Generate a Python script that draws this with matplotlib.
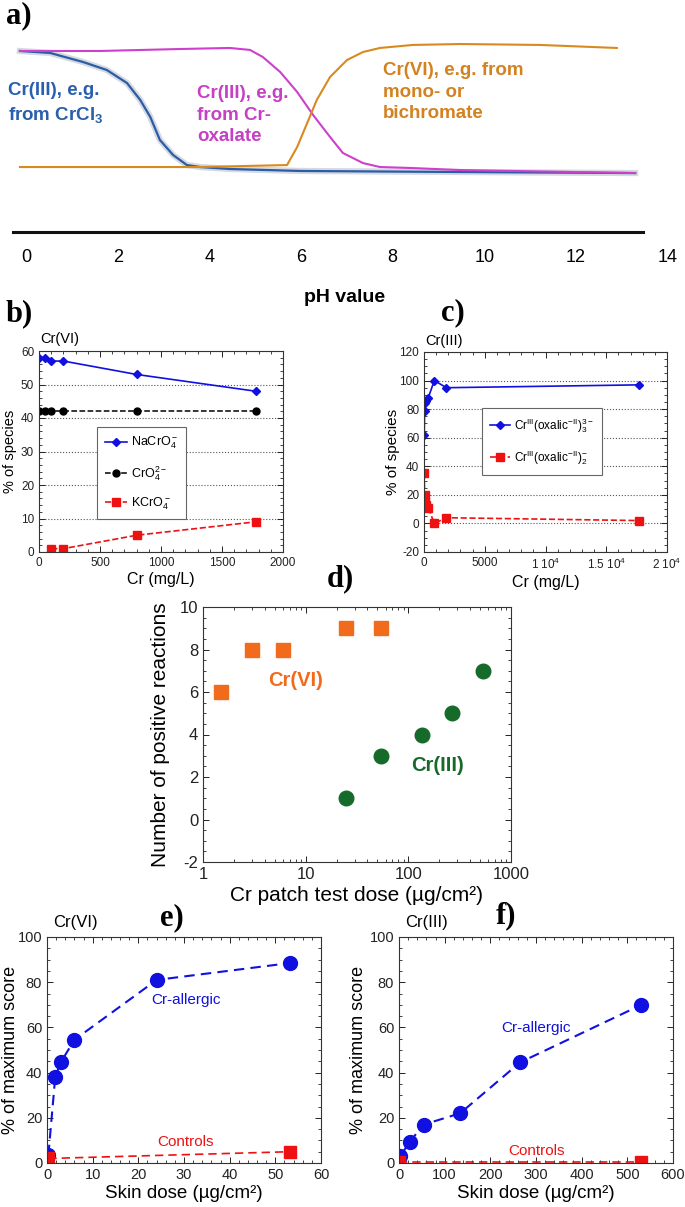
import matplotlib
matplotlib.use('Agg')
import matplotlib.pyplot as plt
from matplotlib.ticker import MultipleLocator

plt.rcParams['font.family'] = ['Liberation Sans', 'DejaVu Sans']
plt.rcParams['mathtext.default'] = 'regular'
plt.rcParams['axes.unicode_minus'] = False

W, H = 685, 1207

# a) schematic speciation vs pH (fraction of Cr)
ph_cl = [-0.15, 0.51, 1.23, 1.75, 2.19, 2.48, 2.70, 2.91, 3.20, 3.50, 3.79, 4.44, 5.97, 9.47, 13.3]
frac_cl = [1.0, 0.983, 0.905, 0.836, 0.724, 0.578, 0.431, 0.233, 0.103, 0.017, 0.0, -0.017, -0.034, -0.043, -0.052]
ph_ox = [-0.15, 1.6, 3.35, 4.44, 4.88, 5.16, 5.54, 5.91, 6.26, 6.63, 6.91, 7.35, 7.72, 8.44, 9.47, 13.3]
frac_ox = [1.0, 1.0, 1.017, 1.026, 1.009, 0.948, 0.819, 0.647, 0.448, 0.259, 0.121, 0.034, 0.0, -0.009, -0.026, -0.052]
ph_vi = [-0.15, 3.79, 5.69, 5.91, 6.13, 6.34, 6.63, 7.0, 7.35, 7.72, 8.44, 9.47, 11.22, 12.9]
frac_vi = [0.0, 0.0, 0.017, 0.172, 0.379, 0.578, 0.776, 0.922, 0.991, 1.026, 1.052, 1.06, 1.052, 1.026]
ph_ticks = [0, 2, 4, 6, 8, 10, 12, 14]

# b) Cr(VI) species
b_cr = [0, 50, 100, 200, 800, 1775]
b_nacro4 = [58, 58, 57, 57, 53, 48]
b_cro4 = [42, 42, 42, 42, 42, 42]
b_kcr = [100, 200, 800, 1775]
b_kcro4 = [1, 1, 5, 9]

# c) Cr(III) oxalate species
c_cr = [20, 50, 100, 200, 350, 850, 1850, 17700]
c_ox3 = [62, 79, 84, 86, 88, 100, 95, 97]
c_ox2 = [35, 20, 15, 13, 11, 0, 4, 2]
c_xticks = [0, 5000, 10000, 15000, 20000]
c_xlabels = ['0', '5000', '1 10$^4$', '1.5 10$^4$', '2 10$^4$']

# d) patch test dose vs positive reactions
d_vi_dose = [1.5, 3.0, 6.0, 24.5, 54]
d_vi_n = [6, 8, 8, 9, 9]
d_iii_dose = [24.5, 54, 135, 268, 537]
d_iii_n = [1, 3, 4, 5, 7]

# e) Cr(VI) skin dose vs score
e_dose = [0.3, 1.8, 3.0, 6.0, 24, 53.3]
e_allergic = [3.5, 38, 44.5, 54.5, 81, 88.5]
e_ctrl_dose = [0.3, 53.3]
e_ctrl = [2, 5]

# f) Cr(III) skin dose vs score
f_dose = [2.7, 24, 54, 134, 265, 531]
f_allergic = [3, 9.5, 17, 22, 44.5, 70]
f_ctrl_dose = [0.5, 531]
f_ctrl = [0.5, 0.5]

BLUE = '#1010e0'
RED = '#ee1111'


def px(x, y):
    return x / W, 1 - y / H


def box(l, t, r, b):
    return [l / W, 1 - b / H, (r - l) / W, (b - t) / H]


def style(ax, size):
    ax.tick_params(which='both', direction='in', top=True, right=True,
                   labelsize=size, colors='#222')
    ax.tick_params(which='major', length=4.5, width=0.7)
    ax.tick_params(which='minor', length=2.5, width=0.6)
    for s in ax.spines.values():
        s.set_linewidth(0.8)
        s.set_color('#333')


def panel_label(x, y, txt):
    fig.text(*px(x, y), txt, family='Liberation Serif', weight='bold',
             fontsize=22, ha='left', va='center')


fig = plt.figure(figsize=(W / 100, H / 100), dpi=100)

# ---- a)
ax = fig.add_axes(box(0, 20, W, 232))
ax.plot(ph_cl, frac_cl, color='#b9c0cc', lw=4.5, alpha=0.6)
ax.plot(ph_cl, frac_cl, color='#2b5ca8', lw=1.6)
ax.plot(ph_ox, frac_ox, color='#cc40cc', lw=1.5)
ax.plot(ph_vi, frac_vi, color='#d98a1e', lw=1.5)
ax.set_xlim(-26.8 / 45.74, (W - 26.8) / 45.74)
ax.set_ylim(-0.56, 1.267)
for s in ['top', 'left', 'right']:
    ax.spines[s].set_visible(False)
ax.spines['bottom'].set_bounds(-0.30, 13.47)
ax.spines['bottom'].set_linewidth(2.2)
ax.spines['bottom'].set_color('#111')
ax.set_yticks([])
ax.set_xticks(ph_ticks)
ax.tick_params(axis='x', length=0, pad=12, labelsize=13)
ax.patch.set_alpha(0)
fig.text(*px(345, 298), 'pH value', weight='bold', fontsize=14, ha='center', va='center')
fig.text(*px(8, 82), 'Cr(III), e.g.\nfrom CrCl$_3$', color='#2a5fae', weight='bold',
         fontsize=13.5, va='top', linespacing=1.4)
fig.text(*px(197, 85), 'Cr(III), e.g.\nfrom Cr-\noxalate', color='#c540c5', weight='bold',
         fontsize=13.5, va='top', linespacing=1.35)
fig.text(*px(383, 62), 'Cr(VI), e.g. from\nmono- or\nbichromate', color='#d4811f',
         weight='bold', fontsize=13.5, va='top', linespacing=1.35)
panel_label(6, 16, 'a)')

# ---- b)
ax = fig.add_axes(box(39, 351, 283, 552))
ax.plot(b_cr, b_nacro4, '-D', color=BLUE, ms=4.5, lw=1.2, label='NaCrO$_4^-$')
ax.plot(b_cr, b_cro4, '--o', color='black', ms=5, lw=1.1, label='CrO$_4^{2-}$')
ax.plot(b_kcr, b_kcro4, '--s', color=RED, ms=5.5, lw=1.2, label='KCrO$_4^-$')
ax.set_xlim(0, 2000)
ax.set_ylim(0, 60)
ax.xaxis.set_major_locator(MultipleLocator(500))
ax.xaxis.set_minor_locator(MultipleLocator(100))
ax.yaxis.set_major_locator(MultipleLocator(10))
ax.yaxis.set_minor_locator(MultipleLocator(2))
ax.grid(axis='y', which='major', ls=':', color='#555', lw=0.8)
style(ax, 8.5)
ax.set_xlabel('Cr (mg/L)', fontsize=11.5, labelpad=2)
ax.set_ylabel('% of species', fontsize=10.5)
ax.yaxis.set_label_coords(-0.092, 0.5)
leg = ax.legend(loc='upper left', bbox_to_anchor=(0.238, 0.62), fontsize=9,
                fancybox=False, edgecolor='#666', framealpha=1, handlelength=1.8,
                labelspacing=1.0, borderpad=0.6, handletextpad=0.3, borderaxespad=0)
leg.get_frame().set_linewidth(0.8)
fig.text(*px(40, 339), 'Cr(VI)', fontsize=10.5, va='center')
panel_label(6, 314, 'b)')

# ---- c)
ax = fig.add_axes(box(424, 352, 667, 552))
ax.plot(c_cr, c_ox3, '-D', color=BLUE, ms=4.5, lw=1.2,
        label='Cr$^{III}$(oxalic$^{-II}$)$_3^{3-}$')
ax.plot(c_cr, c_ox2, '--s', color=RED, ms=5.5, lw=1.2,
        label='Cr$^{III}$(oxalic$^{-II}$)$_2^{-}$')
ax.set_xlim(0, 20000)
ax.set_ylim(-20, 120)
ax.set_xticks(c_xticks)
ax.set_xticklabels(c_xlabels)
ax.xaxis.set_minor_locator(MultipleLocator(1000))
ax.yaxis.set_major_locator(MultipleLocator(20))
ax.yaxis.set_minor_locator(MultipleLocator(5))
ax.grid(axis='y', which='major', ls=':', color='#555', lw=0.8)
style(ax, 8.5)
ax.set_xlabel('Cr (mg/L)', fontsize=11.5, labelpad=2)
ax.set_ylabel('% of species', fontsize=11)
ax.yaxis.set_label_coords(-0.1, 0.5)
leg = ax.legend(loc='upper left', bbox_to_anchor=(0.239, 0.72), fontsize=8.5,
                fancybox=False, edgecolor='#666', framealpha=1, handlelength=1.7,
                labelspacing=1.1, borderpad=0.7, handletextpad=0.3, borderaxespad=0)
leg.get_frame().set_linewidth(0.8)
fig.text(*px(425, 341), 'Cr(III)', fontsize=10.5, va='center')
panel_label(441, 313, 'c)')

# ---- d)
ax = fig.add_axes(box(203, 607, 511, 862))
ax.plot(d_vi_dose, d_vi_n, 's', color='#f26a1b', ms=9.5, ls='none')
ax.plot(d_iii_dose, d_iii_n, 'o', color='#176b2a', ms=10.5, ls='none')
ax.set_xscale('log')
ax.set_xlim(1, 1000)
ax.set_ylim(-2, 10)
ax.set_xticks([1, 10, 100, 1000])
ax.set_xticklabels(['1', '10', '100', '1000'])
ax.yaxis.set_major_locator(MultipleLocator(2))
ax.yaxis.set_minor_locator(MultipleLocator(0.5))
style(ax, 12)
ax.set_xlabel('Cr patch test dose (µg/cm²)', fontsize=15, labelpad=3)
ax.set_ylabel('Number of positive reactions', fontsize=15)
ax.yaxis.set_label_coords(-0.107, 0.5)
ax.text(7.9, 6.56, 'Cr(VI)', color='#f26a1b', weight='bold', fontsize=14.5,
        ha='center', va='center')
ax.text(194, 2.52, 'Cr(III)', color='#176b2a', weight='bold', fontsize=14.5,
        ha='center', va='center')
panel_label(327, 579, 'd)')

# ---- e)
ax = fig.add_axes(box(47, 937, 321, 1163))
ax.plot(e_dose, e_allergic, '--o', color=BLUE, ms=10, lw=1.5, dashes=(5, 3))
ax.plot(e_ctrl_dose, e_ctrl, '--s', color=RED, ms=9, lw=1.2, dashes=(5, 3))
ax.set_xlim(0, 60)
ax.set_ylim(0, 100)
ax.xaxis.set_major_locator(MultipleLocator(10))
ax.xaxis.set_minor_locator(MultipleLocator(2))
ax.yaxis.set_major_locator(MultipleLocator(20))
ax.yaxis.set_minor_locator(MultipleLocator(5))
style(ax, 10.5)
ax.set_xlabel('Skin dose (µg/cm²)', fontsize=13.5, labelpad=2)
ax.set_ylabel('% of maximum score', fontsize=13)
ax.yaxis.set_label_coords(-0.103, 0.5)
ax.text(30.5, 72, 'Cr-allergic', color=BLUE, fontsize=11, ha='center', va='center')
ax.text(30.3, 9.3, 'Controls', color=RED, fontsize=11, ha='center', va='center')
fig.text(*px(53, 922), 'Cr(VI)', fontsize=12, va='center')
panel_label(160, 918, 'e)')

# ---- f)
ax = fig.add_axes(box(399, 937, 673, 1163))
ax.plot(f_dose, f_allergic, '--o', color=BLUE, ms=10, lw=1.5, dashes=(5, 3))
ax.plot(f_ctrl_dose, f_ctrl, '--s', color=RED, ms=9, lw=1.2, dashes=(5, 3))
ax.set_xlim(0, 600)
ax.set_ylim(0, 100)
ax.xaxis.set_major_locator(MultipleLocator(100))
ax.xaxis.set_minor_locator(MultipleLocator(20))
ax.yaxis.set_major_locator(MultipleLocator(20))
ax.yaxis.set_minor_locator(MultipleLocator(5))
style(ax, 10.5)
ax.set_xlabel('Skin dose (µg/cm²)', fontsize=13.5, labelpad=2)
ax.set_ylabel('% of maximum score', fontsize=13)
ax.yaxis.set_label_coords(-0.117, 0.5)
ax.text(299, 59.7, 'Cr-allergic', color=BLUE, fontsize=11, ha='center', va='center')
ax.text(301, 5.4, 'Controls', color=RED, fontsize=11, ha='center', va='center')
fig.text(*px(405, 922), 'Cr(III)', fontsize=12, va='center')
panel_label(496, 916, 'f)')

fig.savefig('out.png', dpi=100)
